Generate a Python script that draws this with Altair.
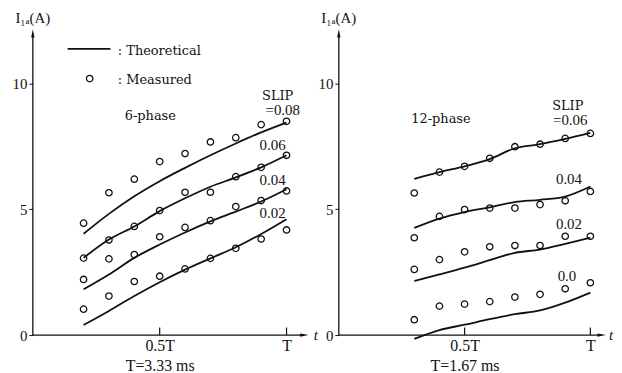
import altair as alt
import pandas as pd

# ---------------- data ----------------
T6 = [0.2, 0.3, 0.4, 0.5, 0.6, 0.7, 0.8, 0.9, 1.0]
SLIPS6 = ["0.02", "0.04", "0.06", "0.08"]
THEO6 = {
    "0.02": [0.40, 0.96, 1.55, 2.10, 2.60, 3.05, 3.49, 4.02, 4.61],
    "0.04": [1.82, 2.41, 3.07, 3.60, 4.08, 4.52, 4.91, 5.31, 5.80],
    "0.06": [3.07, 3.80, 4.32, 4.93, 5.44, 5.90, 6.27, 6.67, 7.15],
    "0.08": [4.03, 4.82, 5.52, 6.12, 6.65, 7.15, 7.62, 8.06, 8.45],
}
MEAS6 = {
    "0.02": [1.03, 1.55, 2.13, 2.34, 2.63, 3.05, 3.45, 3.82, 4.18],
    "0.04": [2.21, 3.03, 3.20, 3.91, 4.28, 4.55, 5.11, 5.35, 5.73],
    "0.06": [3.06, 3.78, 4.32, 4.95, 5.68, 5.68, 6.30, 6.67, 7.15],
    "0.08": [4.45, 5.66, 6.20, 6.90, 7.22, 7.68, 7.85, 8.37, 8.50],
}

T12 = [0.3, 0.4, 0.5, 0.6, 0.7, 0.8, 0.9, 1.0]
SLIPS12 = ["0.0", "0.02", "0.04", "0.06"]
THEO12 = {
    "0.0": [-0.15, 0.20, 0.41, 0.63, 0.83, 0.98, 1.29, 1.69],
    "0.02": [2.15, 2.41, 2.68, 2.98, 3.27, 3.40, 3.63, 3.87],
    "0.04": [4.26, 4.63, 4.89, 5.08, 5.29, 5.38, 5.51, 5.91],
    "0.06": [6.21, 6.48, 6.71, 7.00, 7.43, 7.59, 7.80, 8.04],
}
MEAS12 = {
    "0.0": [0.61, 1.15, 1.23, 1.33, 1.51, 1.62, 1.84, 2.08],
    "0.02": [2.61, 3.00, 3.31, 3.51, 3.56, 3.56, 3.93, 3.93],
    "0.04": [3.87, 4.72, 4.99, 5.05, 5.05, 5.19, 5.34, 5.71],
    "0.06": [5.65, 6.48, 6.71, 7.03, 7.49, 7.59, 7.82, 8.02],
}

Y_TICKS = [0, 5, 10]
X_TICKS = [0.5, 1.0]
X_TICK_LABELS = ["0.5T", "T"]

FONT = "Liberation Serif"
WIDE = "DejaVu Serif"
INK = "#111111"


def long_table(t, table, slips):
    rows = []
    for s in slips:
        for ti, v in zip(t, table[s]):
            rows.append({"t": ti, "I": v, "slip": s})
    return pd.DataFrame(rows)


ONE = pd.DataFrame({"_": [0]})


def text(x, y, s, size=15, align="center", italic=False, font=FONT):
    return alt.Chart(ONE).mark_text(
        text=s, font=font, fontSize=size, align=align, baseline="middle",
        color=INK, fontStyle="italic" if italic else "normal",
    ).encode(x=alt.datum(x), y=alt.datum(y))


def panel(t, theo, meas, slips, xmax, width, period, arrow_x, t_label_x,
          slip_head, slip_labels, phase_text, phase_pos, legend):
    height = 328
    ymax = 12.96
    xs = alt.Scale(domain=[0, xmax], nice=False, zero=False)
    ys = alt.Scale(domain=[0, ymax], nice=False)
    label_expr = "datum.value == 1 ? '%s' : '%s'" % (X_TICK_LABELS[1], X_TICK_LABELS[0])
    xax = alt.Axis(values=X_TICKS, labelExpr=label_expr, domain=False, ticks=False,
                   grid=False, labelFont=FONT, labelFontSize=16, labelColor=INK,
                   labelPadding=3, title=period, titleFont=FONT, titleFontSize=16,
                   titleFontWeight="normal", titleColor=INK, titlePadding=4,
                   titleX=0.5 * (width / xmax), titleAlign="center")
    yax = alt.Axis(values=Y_TICKS, domain=False, ticks=True, tickSize=4, tickColor=INK,
                   grid=False, labelFont=FONT, labelFontSize=15, labelColor=INK,
                   labelPadding=2, title=None)

    lines_df = long_table(t, theo, slips)
    pts_df = long_table(t, meas, slips)

    lines = alt.Chart(lines_df).mark_line(
        color=INK, strokeWidth=1.8, interpolate="monotone"
    ).encode(
        x=alt.X("t:Q", scale=xs, axis=xax),
        y=alt.Y("I:Q", scale=ys, axis=yax),
        detail="slip:N",
    )
    pts = alt.Chart(pts_df).mark_point(
        shape="circle", filled=False, size=42, strokeWidth=1.3, color=INK, opacity=1
    ).encode(x="t:Q", y="I:Q")

    # axes drawn as arrows
    yline = alt.Chart(ONE).mark_rule(color=INK, strokeWidth=1.3).encode(
        x=alt.datum(0), y=alt.datum(0), y2=alt.datum(12.0))
    xline = alt.Chart(ONE).mark_rule(color=INK, strokeWidth=1.3).encode(
        x=alt.datum(0), x2=alt.datum(arrow_x - 0.02), y=alt.datum(0))
    up = alt.Chart(ONE).mark_point(
        shape="M0,-1L0.4,1L-0.4,1Z", filled=True, size=70, color=INK, opacity=1
    ).encode(x=alt.datum(0), y=alt.datum(12.0))
    right = alt.Chart(ONE).mark_point(
        shape="M1,0L-1,0.4L-1,-0.4Z", filled=True, size=70, color=INK, opacity=1
    ).encode(x=alt.datum(arrow_x - 0.02), y=alt.datum(0))
    tick_df = pd.DataFrame({"t": X_TICKS})
    xticks = alt.Chart(tick_df).mark_rule(color=INK, strokeWidth=1.2).encode(
        x="t:Q", y=alt.datum(0), y2=alt.datum(0.3))

    layers = [yline, xline, up, right, xticks, lines, pts,
              text(0.0, 12.6, "I\u2081\u2090(A)", size=15),
              text(t_label_x, 0, "t", size=15, italic=True),
              text(phase_pos[0], phase_pos[1], phase_text, size=13, font=WIDE)]
    hx, hy = slip_head
    layers.append(text(hx, hy, "SLIP", size=13, font=WIDE))
    for (lx, ly, s) in slip_labels:
        layers.append(text(lx, ly, s, size=15))
    if legend:
        layers.append(alt.Chart(ONE).mark_rule(color=INK, strokeWidth=1.8).encode(
            x=alt.datum(0.137), x2=alt.datum(0.306), y=alt.datum(11.38)))
        layers.append(alt.Chart(ONE).mark_point(
            shape="circle", filled=False, size=42, strokeWidth=1.3, color=INK, opacity=1
        ).encode(x=alt.datum(0.224), y=alt.datum(10.2)))
        layers.append(text(0.335, 11.3, ":  Theoretical", size=13, align="left", font=WIDE))
        layers.append(text(0.335, 10.16, ":  Measured", size=13, align="left", font=WIDE))
    return alt.layer(*layers).properties(width=width, height=height)


left = panel(
    T6, THEO6, MEAS6, SLIPS6, xmax=1.12, width=286, period="T=3.33 ms",
    arrow_x=1.09, t_label_x=1.115,
    slip_head=(0.965, 9.52),
    slip_labels=[(0.985, 8.93, "=" + SLIPS6[3]),
                 (0.945, 7.55, SLIPS6[2]), (0.945, 6.17, SLIPS6[1]),
                 (0.945, 4.86, SLIPS6[0])],
    phase_text="6-phase", phase_pos=(0.463, 8.73), legend=True,
)
right = panel(
    T12, THEO12, MEAS12, SLIPS12, xmax=1.09, width=276, period="T=1.67 ms",
    arrow_x=1.065, t_label_x=1.082,
    slip_head=(0.91, 9.12),
    slip_labels=[(0.92, 8.55, "=" + SLIPS12[3]),
                 (0.915, 6.2, SLIPS12[2]), (0.915, 4.41, SLIPS12[1]),
                 (0.907, 2.36, SLIPS12[0])],
    phase_text="12-phase", phase_pos=(0.406, 8.61), legend=False,
)

chart = alt.hconcat(left, right, spacing=0).properties(
    padding={"left": 4, "top": 0, "right": 0, "bottom": 0},
    background="white",
).configure_view(stroke=None)

chart.save("out.html", embed_options={"renderer": "svg", "actions": False})
